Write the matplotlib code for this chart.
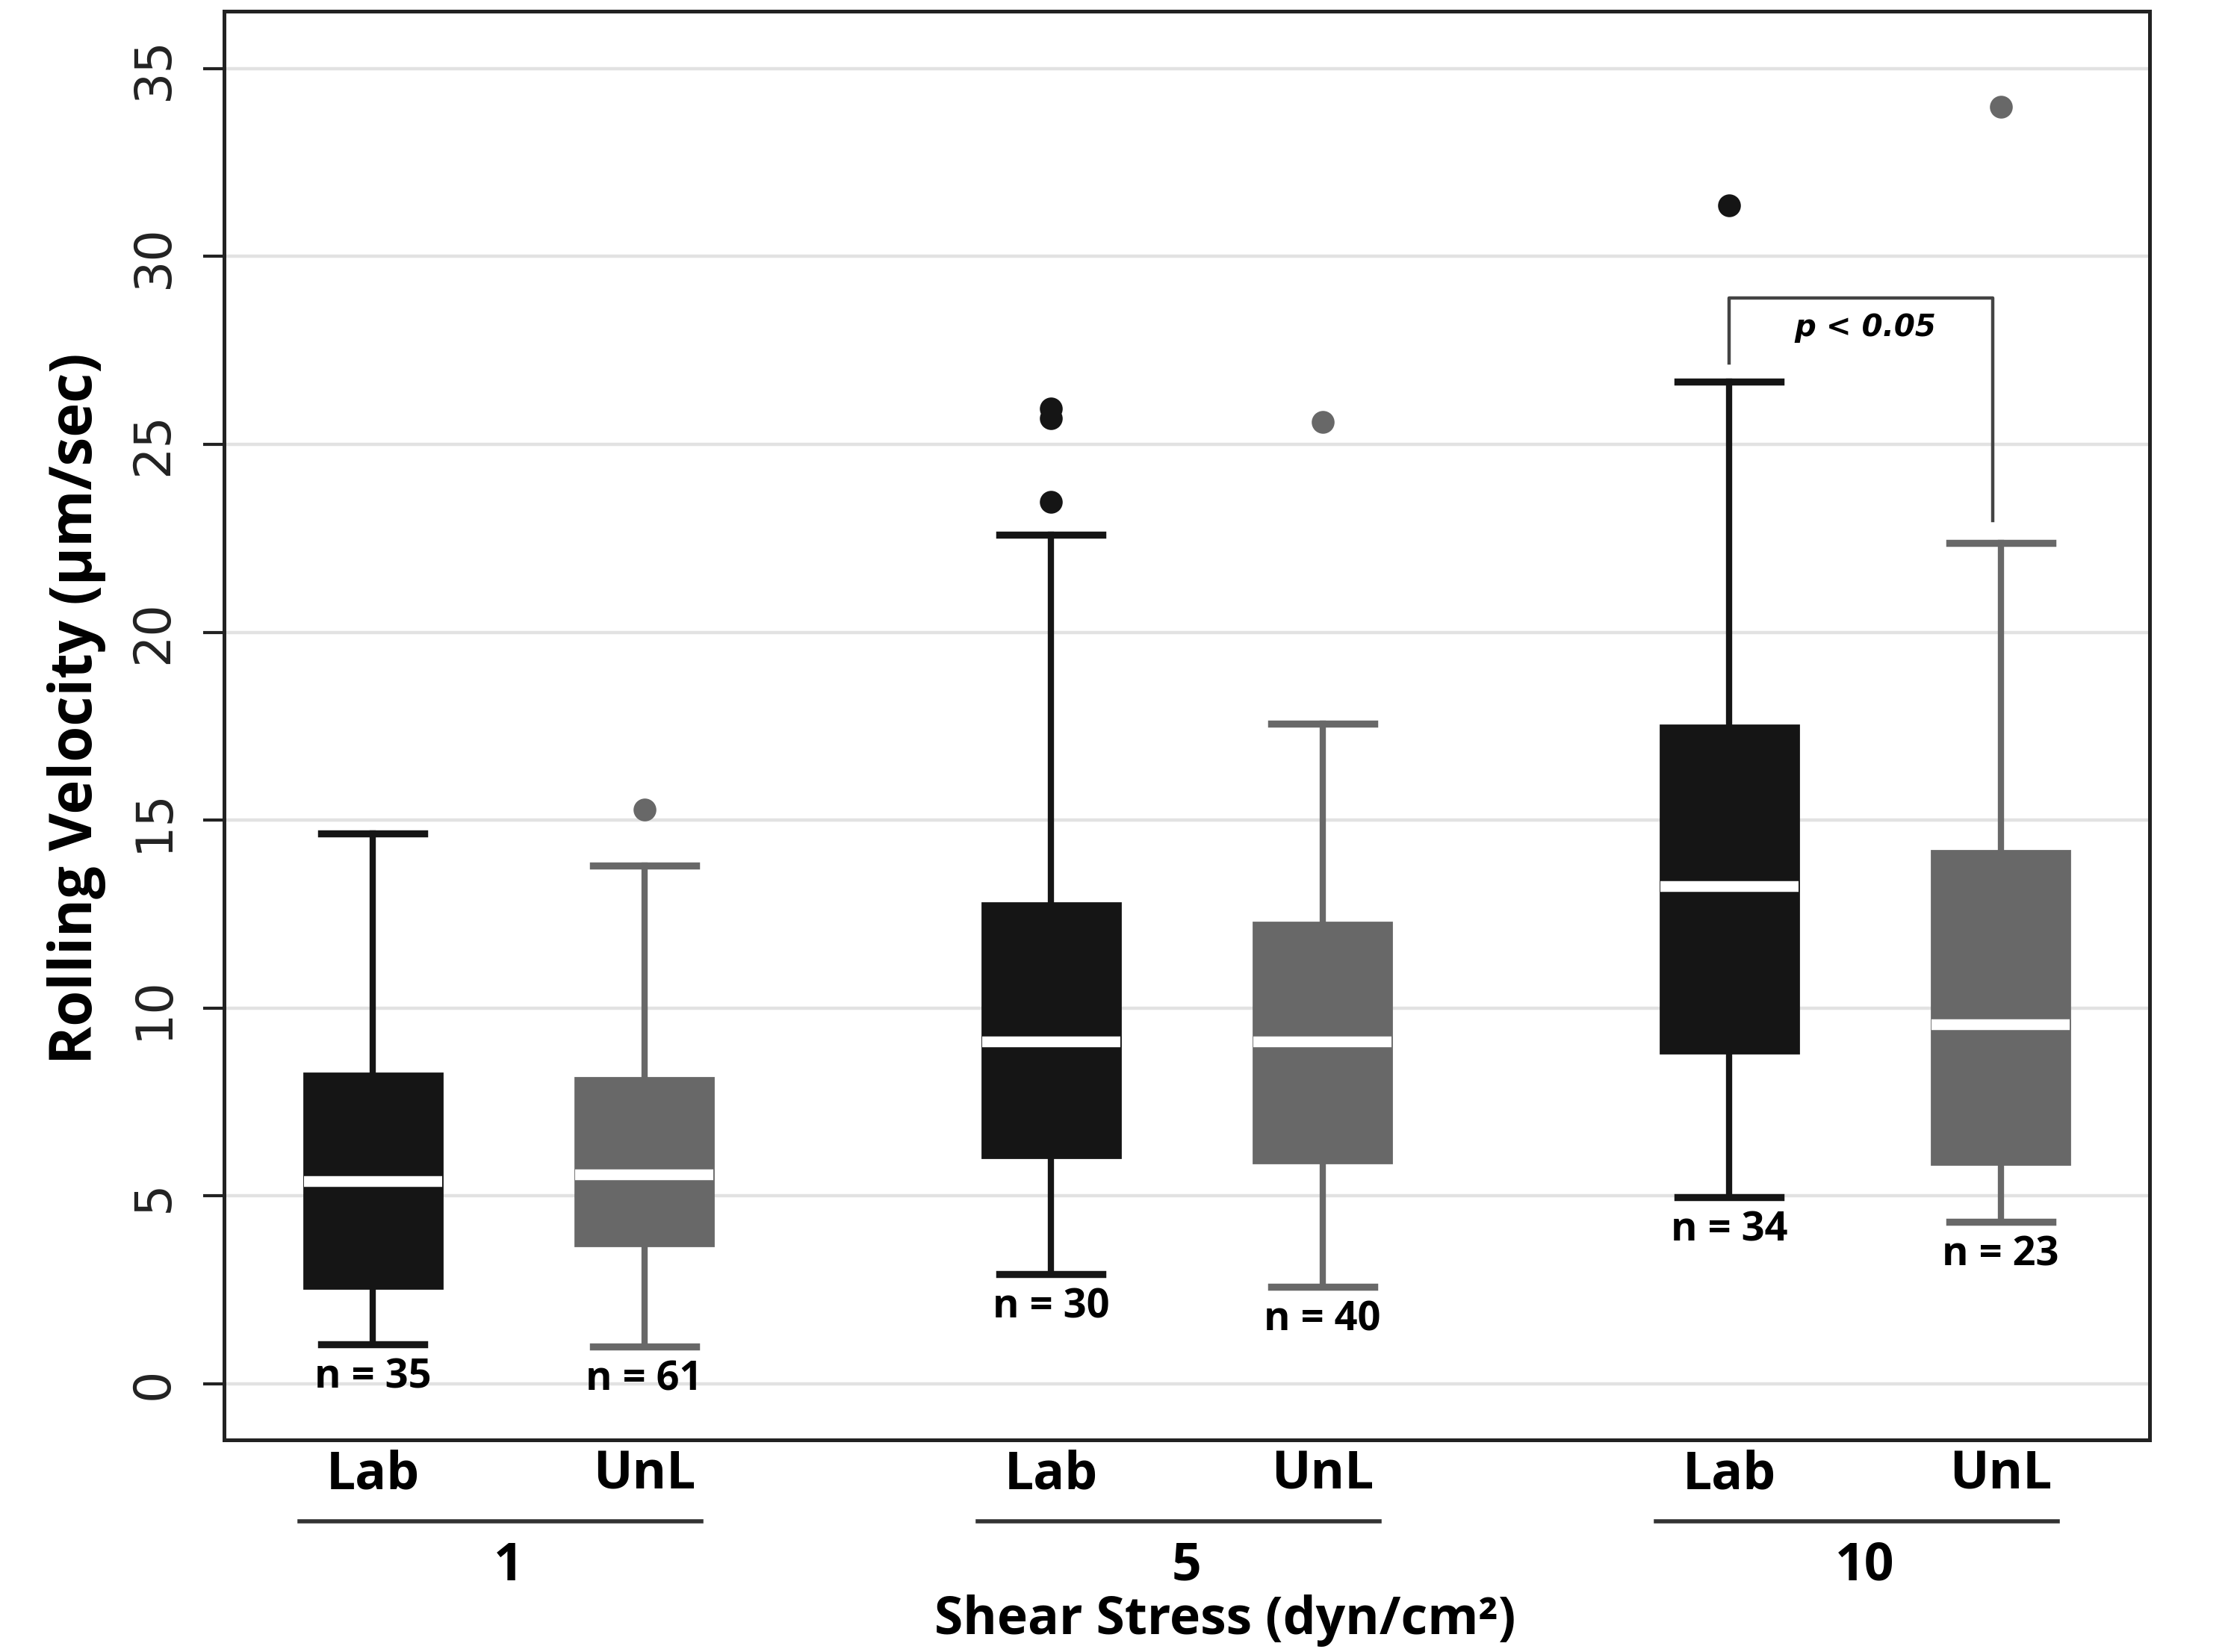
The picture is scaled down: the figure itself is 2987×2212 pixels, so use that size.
import matplotlib
matplotlib.use('Agg')
import matplotlib.pyplot as plt
import matplotlib.transforms as mtransforms

# ---------------- data ----------------
groups = ['1', '5', '10']
conditions = ['Lab', 'UnL']
box_labels = ['Lab', 'UnL', 'Lab', 'UnL', 'Lab', 'UnL']
whislo = [1.06, 0.99, 2.92, 2.58, 4.97, 4.32]
q1 = [2.54, 3.68, 6.03, 5.88, 8.80, 5.84]
med = [5.38, 5.57, 9.10, 9.10, 13.23, 9.56]
q3 = [8.27, 8.15, 12.80, 12.29, 17.52, 14.18]
whishi = [14.64, 13.80, 22.60, 17.56, 26.66, 22.37]
fliers = [[], [15.28], [25.95, 25.70, 23.47], [25.60], [31.36], [33.98]]
n_counts = [35, 61, 30, 40, 34, 23]
yticks = [0, 5, 10, 15, 20, 25, 30, 35]
sig_text = 'p < 0.05'
sig_level = 28.9

# ---------------- style ----------------
lab_color = '#151515'
unl_color = '#686868'
colors = [lab_color, unl_color] * 3
positions = [0, 1, 2.5, 3.5, 5, 6]
bold_font = 'Open Sans'

fig = plt.figure(figsize=(2987 / 200, 2212 / 200), dpi=200)
ax = fig.add_axes([0.1003, 0.1286, 0.8633, 0.8645])

stats = []
for i in range(len(box_labels)):
    stats.append(dict(whislo=whislo[i], q1=q1[i], med=med[i], q3=q3[i],
                      whishi=whishi[i], fliers=fliers[i], label=box_labels[i]))

for i, st in enumerate(stats):
    c = colors[i]
    ax.bxp([st], positions=[positions[i]], widths=0.51, capwidths=0.38,
           patch_artist=True, showfliers=True,
           boxprops=dict(facecolor=c, edgecolor=c, linewidth=1.0),
           medianprops=dict(color='white', linewidth=5.2, solid_capstyle='butt'),
           whiskerprops=dict(color=c, linewidth=3.0),
           capprops=dict(color=c, linewidth=3.4),
           flierprops=dict(marker='o', markerfacecolor=c, markeredgecolor=c,
                           markersize=10),
           zorder=3)

ax.set_xlim(-0.55, 6.55)
ax.set_ylim(-1.48, 36.52)
ax.set_yticks(yticks)
ax.set_yticklabels([str(t) for t in yticks])
ax.set_xticks([])
ax.grid(axis='y', color='#e2e2e2', linewidth=1.6, zorder=0)
ax.set_axisbelow(True)

for sp in ax.spines.values():
    sp.set_linewidth(1.8)
    sp.set_color('#222222')

ax.tick_params(axis='y', length=10, width=1.5, pad=12, colors='#222222',
               labelsize=24)
for lab in ax.get_yticklabels():
    lab.set_rotation(90)
    lab.set_va('center')
    lab.set_ha('right')
    lab.set_family(['Liberation Sans Narrow', 'DejaVu Sans'])

ax.set_ylabel('Rolling Velocity (µm/sec)', fontsize=28, fontweight='bold',
              family=[bold_font, 'DejaVu Sans'])
ax.yaxis.set_label_coords(-0.061, 0.512)

# n labels under lower whiskers
for i in range(len(box_labels)):
    ax.annotate(f'n = {n_counts[i]}', xy=(positions[i], whislo[i]),
                xytext=(0, -16), textcoords='offset points',
                ha='center', va='center', fontsize=19.5, fontweight='bold',
                family=[bold_font, 'DejaVu Sans'], zorder=4)

# significance bracket
ax.plot([positions[4], positions[4], positions[5] - 0.03, positions[5] - 0.03],
        [whishi[4] + 0.5, sig_level, sig_level, whishi[5] + 0.6],
        color='#444444', linewidth=1.6, zorder=4)
ax.text((positions[4] + positions[5]) / 2, sig_level - 0.8, sig_text,
        ha='center', va='center', fontsize=14.5, fontweight='bold',
        fontstyle='italic', family=['DejaVu Sans'])

# category labels below axis
trans = mtransforms.blended_transform_factory(ax.transData, ax.transAxes)
for i in range(len(box_labels)):
    ax.text(positions[i], -0.025, box_labels[i], transform=trans,
            ha='center', va='center', fontsize=25, fontweight='bold',
            family=[bold_font, 'DejaVu Sans'])

for g in range(len(groups)):
    x0 = positions[2 * g]
    x1 = positions[2 * g + 1]
    ax.plot([x0 - 0.27, x1 + 0.21], [-0.057, -0.057], transform=trans,
            color='#333333', linewidth=2.0, clip_on=False)
    ax.text((x0 + x1) / 2, -0.089, groups[g], transform=trans,
            ha='center', va='center', fontsize=25, fontweight='bold',
            family=[bold_font, 'DejaVu Sans'])

ax.text(0.52, -0.127, 'Shear Stress (dyn/cm²)', transform=ax.transAxes,
        ha='center', va='center', fontsize=25, fontweight='bold',
        family=[bold_font, 'DejaVu Sans'])

fig.savefig('out.png', dpi=200, facecolor='white')
